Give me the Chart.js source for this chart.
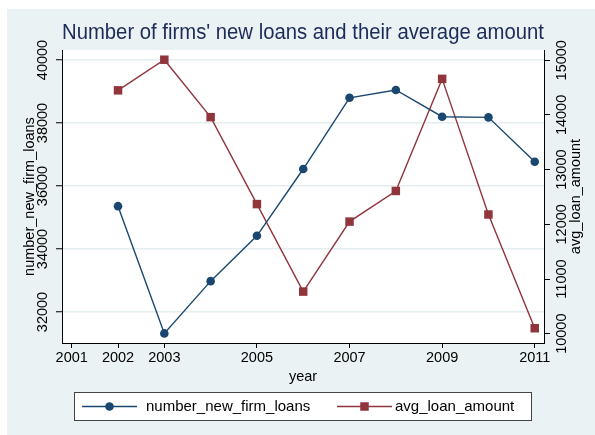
<!DOCTYPE html>
<html>
<head>
<meta charset="utf-8">
<script src="https://cdn.jsdelivr.net/npm/chart.js@4.4.0/dist/chart.umd.min.js"></script>
<style>
  html, body { margin: 0; padding: 0; background: #fff; }
</style>
</head>
<body>
<canvas id="chart" width="595" height="435"></canvas>
<script>
// ========== data ==========
const years = [2002, 2003, 2004, 2005, 2006, 2007, 2008, 2009, 2010, 2011];
const newFirmLoans = [35360, 31320, 32980, 34420, 36540, 38800, 39050, 38200, 38180, 36770];
const avgLoanAmount = [14450, 15010, 13960, 12370, 10770, 12050, 12610, 14660, 12180, 10100];
const xTicks = [2001, 2002, 2003, 2005, 2007, 2009, 2011];
const leftTicks = [32000, 34000, 36000, 38000, 40000];
const rightTicks = [10000, 11000, 12000, 13000, 14000, 15000];

const FONT = 'Liberation Sans, Arial, Helvetica, sans-serif';
const NAVY = '#1a476f';
const MAROON = '#90353b';

// build {x, y} points
function toPoints(values) {
    const pts = [];
    for (let i = 0; i < years.length; i++) {
        pts.push({ x: years[i], y: values[i] });
    }
    return pts;
}

// background: white margin, light blue graph region, white plot region
const bgPlugin = {
    id: 'stataBg',
    beforeDraw(chart) {
        const ctx = chart.ctx;
        const a = chart.chartArea;
        ctx.save();
        ctx.fillStyle = '#ffffff';
        ctx.fillRect(0, 0, chart.width, chart.height);
        ctx.fillStyle = '#eaf2f3';
        ctx.fillRect(7, 9, chart.width - 7, chart.height - 9);
        ctx.fillStyle = '#ffffff';
        ctx.fillRect(a.left, a.top, a.right - a.left, a.bottom - a.top);
        ctx.restore();
    }
};

// right axis title (reads bottom to top) + boxed legend
const extrasPlugin = {
    id: 'stataExtras',
    afterDraw(chart) {
        const ctx = chart.ctx;
        const a = chart.chartArea;
        ctx.save();

        // right axis title
        ctx.fillStyle = '#000';
        ctx.font = '14.5px ' + FONT;
        ctx.textAlign = 'center';
        ctx.textBaseline = 'middle';
        ctx.translate(575.5, (a.top + a.bottom) / 2);
        ctx.rotate(-Math.PI / 2);
        ctx.fillText('avg_loan_amount', 0, 0);
        ctx.restore();

        // legend box
        ctx.save();
        ctx.fillStyle = '#ffffff';
        ctx.fillRect(74.5, 392.5, 457, 28);
        ctx.strokeStyle = '#444';
        ctx.lineWidth = 1;
        ctx.strokeRect(74.5, 392.5, 457, 28);

        const y = 406.5;
        const slots = [
            { x0: 82, x1: 137, tx: 146 },
            { x0: 337, x1: 392, tx: 395 }
        ];
        const datasets = chart.data.datasets;
        for (let i = 0; i < datasets.length; i++) {
            const ds = datasets[i];
            const s = slots[i];
            const cx = (s.x0 + s.x1) / 2;
            ctx.strokeStyle = ds.borderColor;
            ctx.lineWidth = ds.borderWidth;
            ctx.beginPath();
            ctx.moveTo(s.x0, y);
            ctx.lineTo(s.x1, y);
            ctx.stroke();
            ctx.fillStyle = ds.pointBackgroundColor;
            if (ds.pointStyle === 'rect') {
                const h = Math.SQRT1_2 * ds.pointRadius;
                ctx.fillRect(cx - h, y - h, 2 * h, 2 * h);
            } else {
                ctx.beginPath();
                ctx.arc(cx, y, ds.pointRadius, 0, Math.PI * 2);
                ctx.fill();
            }
            ctx.fillStyle = '#000';
            ctx.font = '15px ' + FONT;
            ctx.textAlign = 'left';
            ctx.textBaseline = 'middle';
            ctx.fillText(ds.label, s.tx, y);
        }
        ctx.restore();
    }
};

const tickFont = { family: FONT, size: 14.5 };

const ctx = document.getElementById('chart');
const chart = new Chart(ctx, {
    type: 'line',
    data: {
        datasets: [
            {
                label: 'number_new_firm_loans',
                data: toPoints(newFirmLoans),
                yAxisID: 'y',
                borderColor: NAVY,
                borderWidth: 1.4,
                pointStyle: 'circle',
                pointRadius: 4.3,
                pointBorderWidth: 0,
                pointBackgroundColor: NAVY,
                tension: 0
            },
            {
                label: 'avg_loan_amount',
                data: toPoints(avgLoanAmount),
                yAxisID: 'y1',
                borderColor: MAROON,
                borderWidth: 1.4,
                pointStyle: 'rect',
                pointRadius: 6,
                pointBorderWidth: 0,
                pointBackgroundColor: MAROON,
                tension: 0
            }
        ]
    },
    options: {
        responsive: false,
        animation: false,
        layout: { padding: 0 },
        plugins: {
            legend: { display: false },
            tooltip: { enabled: false },
            title: {
                display: true,
                fullSize: false,
                text: "Number of firms' new loans and their average amount",
                color: '#1c2b59',
                font: { family: FONT, size: 21.7, weight: 'normal' },
                padding: { top: 20.3, bottom: 3.7 }
            }
        },
        scales: {
            x: {
                type: 'linear',
                position: 'bottom',
                min: 2000.79,
                max: 2011.2,
                afterBuildTicks: (s) => { s.ticks = xTicks.map(v => ({ value: v })); },
                afterFit: (s) => { s.height = 92; },
                grid: { drawOnChartArea: false, drawTicks: true, tickLength: 5, tickColor: '#000', tickWidth: 1 },
                border: { display: true, color: '#000', width: 1 },
                ticks: { autoSkip: false, maxRotation: 0, color: '#000', font: tickFont, padding: 1.3, callback: (v) => String(v) },
                title: { display: true, text: 'year', color: '#000', font: tickFont, padding: { top: 0, bottom: 49.3 } }
            },
            y: {
                type: 'linear',
                position: 'left',
                min: 31016,
                max: 40317,
                afterBuildTicks: (s) => { s.ticks = leftTicks.map(v => ({ value: v })); },
                afterFit: (s) => { s.width = 62; },
                grid: { color: '#e4edef', lineWidth: 1.5, drawTicks: true, tickLength: 6, tickColor: '#000', tickWidth: 1 },
                border: { display: true, color: '#000', width: 1 },
                ticks: { autoSkip: false, minRotation: 90, maxRotation: 90, crossAlign: 'center', color: '#000', font: tickFont, padding: -7.65, callback: (v) => String(v) },
                title: { display: true, text: 'number_new_firm_loans', color: '#000', font: tickFont, padding: { top: 21.7, bottom: 0 } }
            },
            y1: {
                type: 'linear',
                position: 'right',
                min: 9830,
                max: 15187,
                afterBuildTicks: (s) => { s.ticks = rightTicks.map(v => ({ value: v })); },
                afterFit: (s) => { s.width = 51; },
                grid: { drawOnChartArea: false, drawTicks: true, tickLength: 6, tickColor: '#000', tickWidth: 1 },
                border: { display: true, color: '#000', width: 1 },
                ticks: { autoSkip: false, minRotation: 90, maxRotation: 90, crossAlign: 'center', color: '#000', font: tickFont, padding: -8.15, callback: (v) => String(v) }
            }
        }
    },
    plugins: [bgPlugin, extrasPlugin]
});
</script>
</body>
</html>
